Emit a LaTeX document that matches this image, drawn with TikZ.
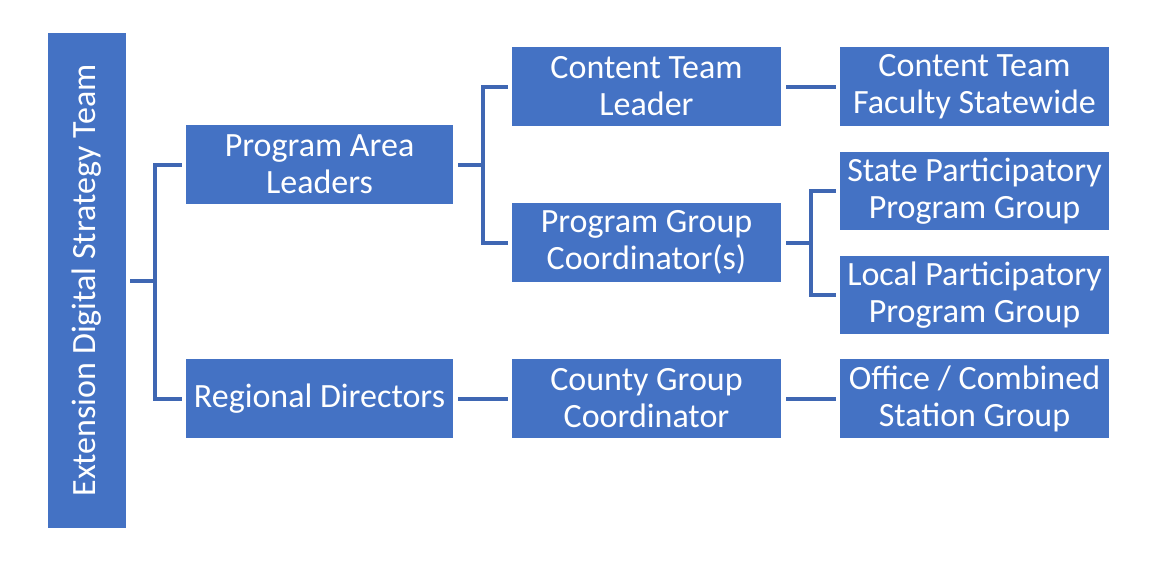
\documentclass[tikz,border=0pt]{standalone}
\usepackage{fontspec}
\setmainfont{Carlito}
\definecolor{boxblue}{HTML}{4472C4}
\definecolor{lineblue}{HTML}{3F67B3}
\begin{document}
\begin{tikzpicture}[x=1pt,y=-1pt,
  box/.style={fill=boxblue,text=white,minimum width=268pt,minimum height=79pt,
    align=center,inner sep=0pt,font=\fontsize{34}{37}\selectfont},
  conn/.style={draw=lineblue,line width=4pt},
  ]
\useasboundingbox (0,0) rectangle (1154,574);
\node[fill=boxblue,text=white,minimum width=78pt,minimum height=495pt,inner sep=0pt,
  font=\fontsize{34}{37}\selectfont] (left) at (87,280.5) {\rotatebox{90}{Extension Digital Strategy Team}};
\node[box,minimum width=267pt] (pal) at (319.5,164.5) {Program Area\\Leaders};
\node[box,minimum width=267pt] (rd) at (319.5,398.5) {Regional Directors};
\node[box,minimum width=269pt] (ctl) at (646.5,86.5) {Content Team\\Leader};
\node[box,minimum width=269pt] (pgc) at (646.5,242.5) {Program Group\\Coordinator(s)};
\node[box,minimum width=269pt] (cgc) at (646.5,398.5) {County Group\\Coordinator};
\node[box,minimum width=269pt] (ctf) at (974.5,86.5) {Content Team\\Faculty Statewide};
\node[box,minimum width=269pt,minimum height=78pt] (sppg) at (974.5,191) {State Participatory\\Program Group};
\node[box,minimum width=269pt,minimum height=78pt] (lppg) at (974.5,295) {Local Participatory\\Program Group};
\node[box,minimum width=269pt] (ocsg) at (974.5,398.5) {Office / Combined\\Station Group};
% connectors
\draw[conn] ([xshift=4pt]left.east) -- ++(25,0) coordinate (j1);
\draw[conn] ([xshift=-4pt]pal.west) -| (j1) |- ([xshift=-4pt]rd.west);
\draw[conn] ([xshift=5pt]pal.east) -- ++(25,0) coordinate (j2);
\draw[conn] ([xshift=-4pt]ctl.west) -| (j2) |- ([xshift=-4pt]pgc.west);
\draw[conn] ([xshift=5pt]pgc.east) -- ++(25,0) coordinate (j3);
\draw[conn] ([xshift=-4pt]sppg.west) -| (j3) |- ([xshift=-4pt]lppg.west);
\draw[conn] ([xshift=5pt]rd.east) -- ([xshift=-4pt]cgc.west);
\draw[conn] ([xshift=5pt]ctl.east) -- ([xshift=-4pt]ctf.west);
\draw[conn] ([xshift=5pt]cgc.east) -- ([xshift=-4pt]ocsg.west);
\end{tikzpicture}
\end{document}
